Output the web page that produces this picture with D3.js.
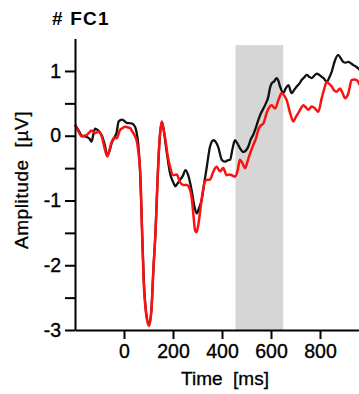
<!DOCTYPE html>
<html>
<head>
<meta charset="utf-8">
<script src="https://cdn.jsdelivr.net/npm/d3@7"></script>
<style>
  body { margin: 0; background: #fff; }
  text { font-family: "Liberation Sans", Arial, sans-serif; fill: #000; }
</style>
</head>
<body>
<script>
// [ms, µV] samples
const blackTrace = [
  [-200, 0.17], [-185, 0.08], [-172, 0.0], [-152, -0.02], [-140, -0.05], [-133, -0.09],
  [-125, 0.02], [-118, 0.11], [-108, 0.09], [-100, 0.06], [-90, 0.0], [-78, -0.15],
  [-68, -0.30], [-58, -0.22], [-50, -0.11], [-38, -0.02], [-30, 0.05], [-22, 0.22],
  [-8, 0.25], [11, 0.20], [31, 0.19], [45, 0.14], [52, 0.04], [58, -0.12], [65, -0.5],
  [72, -1.25], [80, -2.15], [90, -2.72], [102, -2.92], [112, -2.68], [120, -2.06],
  [129, -1.45], [137, -0.68], [145, -0.08], [154, 0.21], [162, 0.1], [167, -0.05],
  [178, -0.35], [188, -0.58], [201, -0.72], [210, -0.78], [218, -0.74], [229, -0.68],
  [240, -0.62], [251, -0.53], [262, -0.61], [276, -0.84], [288, -1.1], [297, -1.20],
  [306, -1.12], [317, -0.99], [328, -0.72], [338, -0.48], [351, -0.17], [365, -0.07],
  [375, -0.1], [385, -0.18], [399, -0.37], [412, -0.40], [423, -0.38], [433, -0.37],
  [443, -0.2], [453, -0.07], [463, -0.12], [473, -0.19], [487, -0.25], [497, -0.23],
  [507, -0.17], [517, -0.06], [528, 0.02], [538, 0.12], [548, 0.24], [558, 0.34],
  [569, 0.42], [579, 0.5], [589, 0.6], [596, 0.74], [603, 0.81], [613, 0.84],
  [623, 0.89], [630, 0.85], [637, 0.76], [650, 0.66], [660, 0.73], [671, 0.78],
  [684, 0.66], [695, 0.71], [705, 0.76], [715, 0.8], [725, 0.86], [735, 0.9],
  [746, 0.94], [756, 0.91], [766, 0.89], [777, 0.93], [787, 0.96], [797, 0.94],
  [807, 0.91], [817, 0.88], [827, 0.83], [838, 0.9], [848, 0.99], [860, 1.15],
  [874, 1.25], [884, 1.2], [895, 1.14], [905, 1.13], [916, 1.14], [926, 1.12],
  [936, 1.09], [946, 1.07], [956, 1.04], [965, 1.0]
];

const redTrace = [
  [-200, 0.17], [-185, 0.06], [-173, -0.01], [-162, 0.0], [-152, 0.01], [-140, 0.06],
  [-132, 0.08], [-118, 0.04], [-105, 0.06], [-91, -0.01], [-80, -0.18], [-68, -0.32],
  [-58, -0.2], [-50, -0.09], [-40, -0.03], [-30, -0.04], [-16, 0.09], [-5, 0.12],
  [4, 0.14], [14, 0.13], [24, 0.12], [35, 0.06], [45, -0.01], [52, -0.08], [58, -0.22],
  [64, -0.45], [68, -0.68], [73, -1.40], [80, -2.23], [90, -2.74], [102, -2.94],
  [112, -2.69], [120, -2.07], [129, -1.46], [137, -0.68], [145, -0.07], [154, 0.22],
  [160, 0.12], [167, -0.01], [178, -0.3], [188, -0.48], [201, -0.61], [215, -0.6],
  [229, -0.72], [242, -0.76], [256, -0.76], [268, -0.82], [276, -0.95], [284, -1.25],
  [290, -1.46], [296, -1.49], [303, -1.38], [310, -1.19], [320, -0.9], [331, -0.7],
  [341, -0.68], [351, -0.68], [364, -0.56], [378, -0.48], [392, -0.55], [405, -0.5],
  [419, -0.61], [430, -0.6], [440, -0.61], [453, -0.63], [463, -0.55], [473, -0.37],
  [483, -0.42], [494, -0.50], [504, -0.4], [514, -0.28], [528, -0.14], [538, -0.05],
  [549, 0.1], [559, 0.16], [569, 0.19], [582, 0.35], [593, 0.44], [603, 0.47],
  [617, 0.42], [630, 0.55], [644, 0.66], [654, 0.62], [664, 0.55], [678, 0.35],
  [691, 0.22], [700, 0.28], [711, 0.35], [722, 0.42], [732, 0.47], [742, 0.44],
  [752, 0.40], [766, 0.45], [780, 0.42], [793, 0.37], [807, 0.58], [817, 0.72],
  [827, 0.83], [838, 0.8], [848, 0.76], [858, 0.7], [868, 0.68], [882, 0.73],
  [892, 0.66], [902, 0.58], [916, 0.66], [929, 0.86], [940, 0.87], [950, 0.86],
  [965, 0.76]
];

const testWindow = [455, 650];
const xTicks = [0, 200, 400, 600, 800];
const yTicks = [-3, -2.5, -2, -1.5, -1, -0.5, 0, 0.5, 1];
const yLabeled = [-3, -2, -1, 0, 1];

const width = 359;
const height = 394;
const font = '"Liberation Sans", Arial, sans-serif';

const svg = d3
  .select("body")
  .append("svg")
  .attr("width", width)
  .attr("height", height);

const xScale = d3.scaleLinear().domain([-200, 960]).range([75, 359.2]);
const yScale = d3.scaleLinear().domain([-3, 1.5]).range([330, 38.6]);

// shaded window
svg
  .append("rect")
  .attr("x", xScale(testWindow[0]))
  .attr("y", yScale(1.4))
  .attr("width", xScale(testWindow[1]) - xScale(testWindow[0]))
  .attr("height", yScale(-3) - yScale(1.4))
  .attr("fill", "#d6d6d6");

// traces
const line = d3
  .line()
  .x((d) => xScale(d[0]))
  .y((d) => yScale(d[1]))
  .curve(d3.curveMonotoneX);

svg
  .append("path")
  .datum(blackTrace)
  .attr("d", line)
  .attr("fill", "none")
  .attr("stroke", "#111")
  .attr("stroke-width", 2.3);

svg
  .append("path")
  .datum(redTrace)
  .attr("d", line)
  .attr("fill", "none")
  .attr("stroke", "#ff1010")
  .attr("stroke-width", 2.5);

// axes
const xAxis = d3
  .axisBottom(xScale)
  .tickValues(xTicks)
  .tickSize(9)
  .tickPadding(5)
  .tickSizeOuter(0);

const yAxis = d3
  .axisLeft(yScale)
  .tickValues(yTicks)
  .tickFormat((d) => (yLabeled.includes(d) ? (d < 0 ? "-" + -d : String(d)) : ""))
  .tickSize(10)
  .tickPadding(4)
  .tickSizeOuter(0);

const gx = svg
  .append("g")
  .attr("transform", `translate(0, ${yScale(-3)})`)
  .call(xAxis);

const gy = svg
  .append("g")
  .attr("transform", `translate(${xScale(-200)}, 0)`)
  .call(yAxis);

[gx, gy].forEach((g) => {
  g.select(".domain").attr("stroke", "#000").attr("stroke-width", 2);
  g.selectAll(".tick line").attr("stroke", "#000").attr("stroke-width", 2);
  g.selectAll(".tick text")
    .style("font-family", font)
    .style("font-size", "19.5px")
    .attr("fill", "#000")
    .attr("stroke", "#000")
    .attr("stroke-width", 0.35);
});

// labels
svg
  .append("text")
  .attr("x", 52)
  .attr("y", 25)
  .style("font-size", "19px")
  .style("font-weight", "bold")
  .style("letter-spacing", "1.2px")
  .style("white-space", "pre")
  .text("# FC1");

svg
  .append("text")
  .attr("x", 225)
  .attr("y", 385)
  .attr("text-anchor", "middle")
  .style("font-size", "19px")
  .style("white-space", "pre")
  .attr("stroke", "#000")
  .attr("stroke-width", 0.3)
  .text("Time  [ms]");

svg
  .append("text")
  .attr("transform", "rotate(-90)")
  .attr("x", -180)
  .attr("y", 28)
  .attr("text-anchor", "middle")
  .style("font-size", "19px")
  .style("white-space", "pre")
  .style("letter-spacing", "0.6px")
  .attr("stroke", "#000")
  .attr("stroke-width", 0.3)
  .text("Amplitude  [µV]");
</script>
</body>
</html>
